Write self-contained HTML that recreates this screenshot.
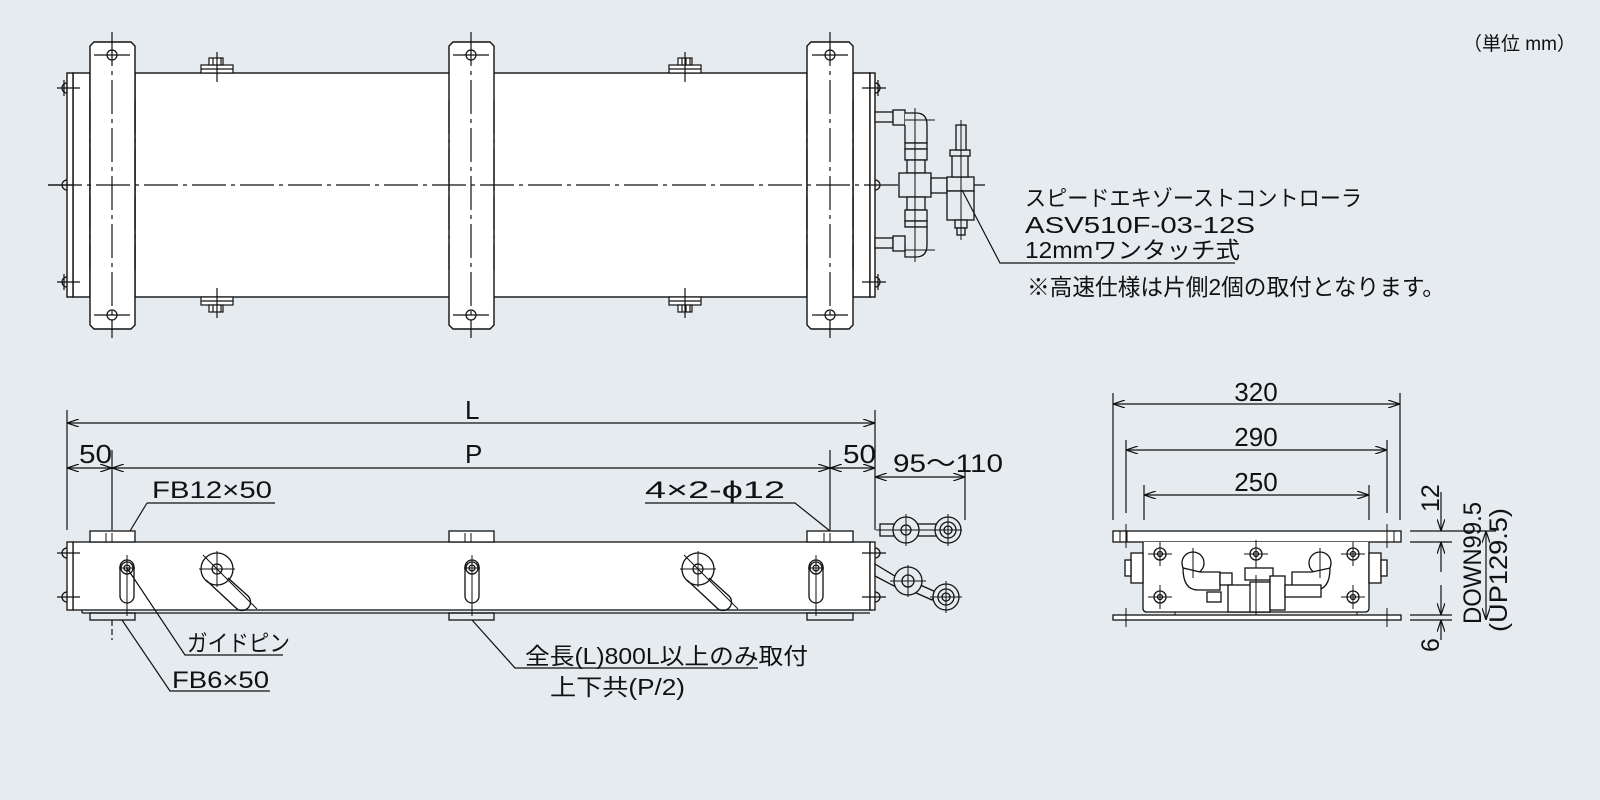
<!DOCTYPE html>
<html><head><meta charset="utf-8"><style>
html,body{margin:0;padding:0;background:#e6ebf0;}
svg{display:block;}
text{font-family:"Liberation Sans","Noto Sans CJK JP",sans-serif;fill:#111;}
</style></head><body>
<svg width="1600" height="800" viewBox="0 0 1600 800" xmlns="http://www.w3.org/2000/svg">
<defs>
<marker id="a" viewBox="0 0 12 8" refX="12" refY="4" markerWidth="12" markerHeight="8" orient="auto-start-reverse" markerUnits="userSpaceOnUse"><path d="M0,0 L12,4 L0,8" fill="none" stroke="#111" stroke-width="1.2"/></marker>
</defs>
<rect width="1600" height="800" fill="#e6ebf0"/>
<g fill="none" stroke="#111" stroke-width="1.4">
<rect x="73" y="73" width="17" height="224" fill="#fff"/>
<rect x="67" y="73" width="6" height="224" fill="#fff"/>
<rect x="135" y="73" width="672" height="224" fill="#fff"/>
<rect x="853" y="73" width="17" height="224" fill="#fff"/>
<rect x="870" y="73" width="5" height="224" fill="#fff"/>
<path d="M94,42 H131 L135,46 V325 L131,329 H94 L90,325 V46 Z" fill="#fff"/>
<path d="M453,42 H490 L494,46 V325 L490,329 H453 L449,325 V46 Z" fill="#fff"/>
<path d="M811,42 H849 L853,46 V325 L849,329 H811 L807,325 V46 Z" fill="#fff"/>
<g stroke-width="1.2">
<circle cx="112" cy="55" r="5"/><circle cx="112" cy="315" r="5"/>
<circle cx="471" cy="55" r="5"/><circle cx="471" cy="315" r="5"/>
<circle cx="830" cy="55" r="5"/><circle cx="830" cy="315" r="5"/>
<path d="M94,55 H130 M94,315 H130 M453,55 H489 M453,315 H489 M812,55 H848 M812,315 H848"/>
<path d="M67,83 a5,5 0 0 0 0,10 M67,180 a5,5 0 0 0 0,10 M67,277 a5,5 0 0 0 0,10"/>
<path d="M57,88 H80 M48,185 H72 M57,282 H80 M64,80 V96 M64,274 V290"/>
<path d="M875,83 a5,5 0 0 1 0,10 M875,180 a5,5 0 0 1 0,10 M875,277 a5,5 0 0 1 0,10"/>
<path d="M862,88 H886 M862,282 H886 M878,80 V96 M878,274 V290"/>
<rect x="201" y="65" width="32" height="8" fill="#fff"/><path d="M201,69 H233"/>
<rect x="209" y="58" width="14" height="7" fill="#fff"/><path d="M213,58 V65 M217,58 V65 M221,58 V65 M217,52 V82"/>
<rect x="669" y="65" width="32" height="8" fill="#fff"/><path d="M669,69 H701"/>
<rect x="678" y="58" width="14" height="7" fill="#fff"/><path d="M682,58 V65 M686,58 V65 M690,58 V65 M685,52 V82"/>
<rect x="201" y="297" width="32" height="8" fill="#fff"/><path d="M201,301 H233"/>
<rect x="209" y="305" width="14" height="7" fill="#fff"/><path d="M213,305 V312 M217,305 V312 M221,305 V312 M217,288 V318"/>
<rect x="669" y="297" width="32" height="8" fill="#fff"/><path d="M669,301 H701"/>
<rect x="678" y="305" width="14" height="7" fill="#fff"/><path d="M682,305 V312 M686,305 V312 M690,305 V312 M685,288 V318"/>
</g>
<g stroke-width="1.2" stroke-dasharray="34 5 4 5">
<path d="M48,185 H985"/>
<path d="M112,32 V338 M471,32 V338 M830,32 V338"/>
<path d="M449,100 V270 M494,100 V270 M807,100 V270 M853,100 V270 M90,100 V270 M135,100 V270"/>
</g>
<g stroke-width="1.3" fill="#e6ebf0">
<rect x="875" y="112" width="18" height="10"/><rect x="893" y="110" width="12" height="15"/>
<path d="M905,113 H916 Q927,113 927,125 V143 H905 V125"/>
<rect x="905" y="143" width="22" height="6"/><rect x="905" y="149" width="22" height="11"/><rect x="907" y="160" width="18" height="13"/>
<rect x="899" y="173" width="32" height="24"/>
<rect x="907" y="197" width="18" height="13"/><rect x="905" y="210" width="22" height="11"/><rect x="905" y="221" width="22" height="6"/>
<path d="M905,227 H927 V245 Q927,257 916,257 H905 V245"/>
<rect x="875" y="238" width="18" height="10"/><rect x="893" y="236" width="12" height="15"/>
<rect x="931" y="178" width="16" height="15"/>
<rect x="947" y="177" width="27" height="14"/><rect x="947" y="191" width="27" height="29"/>
<rect x="952" y="155" width="16" height="22"/><rect x="950" y="150" width="20" height="6"/>
<rect x="956" y="125" width="10" height="25"/>
<rect x="955" y="220" width="12" height="8"/><rect x="957" y="228" width="8" height="7"/>
</g>
<path d="M915,108 V262 M905,120 H935 M905,250 H935 M961,120 V240" stroke-width="1"/>
<path d="M962,190 L1000,263 H1235" stroke-width="1.2"/>

<g stroke-width="1.3">
<rect x="73" y="542" width="797" height="68" fill="#fff"/>
<rect x="67" y="542" width="6" height="68" fill="#fff"/>
<rect x="870" y="542" width="5" height="68" fill="#fff"/>
<path d="M82,613 H870 M82,610 V613"/>
<rect x="90" y="531" width="45" height="11" fill="#fff"/>
<rect x="449" y="531" width="45" height="11" fill="#fff"/>
<rect x="807" y="531" width="46" height="11" fill="#fff"/>
<rect x="90" y="613" width="45" height="7"/>
<rect x="449" y="613" width="45" height="7"/>
<rect x="807" y="613" width="46" height="7"/>
<path d="M106,533 V542 M112,533 V542 M465,533 V542 M471,533 V542 M824,533 V542 M830,533 V542" stroke-width="1"/>
<path d="M67,548 a5,5 0 0 0 0,10 M67,592 a5,5 0 0 0 0,10 M57,553 H80 M57,597 H80"/>
<path d="M875,548 a5,5 0 0 1 0,10 M875,592 a5,5 0 0 1 0,10 M862,553 H886 M862,597 H886"/>
<rect x="120" y="560" width="14" height="43" rx="7"/><circle cx="127" cy="568" r="6"/><circle cx="127" cy="568" r="3"/>
<rect x="465" y="560" width="14" height="43" rx="7"/><circle cx="472" cy="568" r="6"/><circle cx="472" cy="568" r="3"/>
<rect x="809" y="560" width="14" height="43" rx="7"/><circle cx="816" cy="568" r="6"/><circle cx="816" cy="568" r="3"/>
<path d="M127,555 V616 M472,555 V616 M816,555 V616 M119,568 H135 M464,568 H480 M808,568 H824" stroke-width="1"/>
<circle cx="217" cy="569" r="16"/><circle cx="217" cy="569" r="5"/>
<path d="M206,580 L236,608 A8,8 0 0 0 248,596 L228,578"/>
<path d="M199,569 H235 M217,551 V587 M203,555 L257,609" stroke-width="1"/>
<circle cx="698" cy="569" r="16"/><circle cx="698" cy="569" r="5"/>
<path d="M687,580 L717,608 A8,8 0 0 0 729,596 L709,578"/>
<path d="M680,569 H716 M698,551 V587 M684,555 L738,609" stroke-width="1"/>
<g fill="#e6ebf0">
<rect x="880" y="524" width="14" height="12"/><rect x="916" y="524" width="22" height="12"/>
<circle cx="906" cy="530" r="13"/><circle cx="906" cy="530" r="5"/>
<circle cx="948" cy="530" r="13"/><circle cx="948" cy="530" r="8"/><circle cx="948" cy="530" r="4"/>
<path d="M875,564 L898,578 L894,586 L875,576 Z"/><path d="M918,584 L936,592 L932,600 L914,592 Z"/>
<circle cx="908" cy="581" r="14"/><circle cx="908" cy="581" r="6"/>
<circle cx="946" cy="597" r="13"/><circle cx="946" cy="597" r="8"/><circle cx="946" cy="597" r="4"/>
</g>
<path d="M876,530 H962 M906,514 V546 M948,514 V546 M890,581 H926 M908,565 V597 M930,597 H962 M946,581 V613" stroke-width="1"/>
</g>
<g stroke-width="1.2">
<path d="M67,410 V530 M875,410 V530"/>
<path d="M67,423 H875" marker-start="url(#a)" marker-end="url(#a)"/>
<path d="M112,450 V530 M830,450 V530" />
<path d="M112,468 H830" marker-start="url(#a)" marker-end="url(#a)"/>
<path d="M67,468 H112" marker-start="url(#a)" marker-end="url(#a)"/>
<path d="M830,468 H875" marker-start="url(#a)" marker-end="url(#a)"/>
<path d="M965,465 V520"/>
<path d="M875,477 H965" marker-start="url(#a)" marker-end="url(#a)"/>
<path d="M112,620 V640" stroke-dasharray="6 3"/>
<path d="M147,503 H275 M147,503 L130,531"/>
<path d="M645,503 H795 L830,531"/>
<path d="M127,568 L185,655 H283"/>
<path d="M122,620 L170,691 H270"/>
<path d="M472,620 L515,668 H758"/>
</g>

<g stroke-width="1.3">
<rect x="1113" y="531" width="288" height="11" fill="#fff"/>
<path d="M1143,542 V608 Q1143,612 1147,612 H1365 Q1369,612 1369,608 V542" fill="#fff"/>
<rect x="1113" y="615" width="288" height="5" fill="#fff"/>
<path d="M1158,612 H1175 V615 M1340,612 H1357 V615" stroke-width="1"/>
<rect x="1131" y="553" width="12" height="30" fill="#fff"/><rect x="1125" y="560" width="6" height="16" fill="#fff"/>
<rect x="1369" y="553" width="12" height="30" fill="#fff"/><rect x="1381" y="560" width="6" height="16" fill="#fff"/>
<g fill="#fff">
<circle cx="1160" cy="554" r="6"/><circle cx="1256" cy="554" r="6"/><circle cx="1353" cy="554" r="6"/>
<circle cx="1160" cy="597" r="6"/><circle cx="1353" cy="597" r="6"/>
</g>
<circle cx="1160" cy="554" r="2.5"/><circle cx="1256" cy="554" r="2.5"/><circle cx="1353" cy="554" r="2.5"/>
<circle cx="1160" cy="597" r="2.5"/><circle cx="1353" cy="597" r="2.5"/>
<path d="M1148,554 H1172 M1160,542 V566 M1244,554 H1268 M1256,540 V568 M1341,554 H1365 M1353,542 V566 M1148,597 H1172 M1160,585 V609 M1341,597 H1365 M1353,585 V609" stroke-width="1"/>
<path d="M1120,531 V542 M1127,531 V542 M1387,531 V542 M1394,531 V542 M1126,524 V548 M1387,524 V548 M1126,608 V627 M1387,608 V627" stroke-width="1"/>
<circle cx="1193" cy="563" r="11" fill="#fff"/><circle cx="1320" cy="563" r="11" fill="#fff"/>
<path d="M1183,568 Q1183,590 1198,590 H1220 V572 H1200 Z" fill="#fff"/>
<path d="M1330,568 Q1330,590 1315,590 H1292 V572 H1312 Z" fill="#fff"/>
<rect x="1220" y="573" width="12" height="12" fill="#fff"/>
<rect x="1245" y="568" width="28" height="12" fill="#fff"/>
<rect x="1228" y="585" width="42" height="27" fill="#fff"/>
<rect x="1250" y="582" width="20" height="30" fill="#fff"/>
<rect x="1270" y="576" width="15" height="34" fill="#fff"/>
<rect x="1285" y="585" width="36" height="12" fill="#fff"/>
<rect x="1207" y="592" width="14" height="10" fill="#fff"/>
<path d="M1193,548 V578 M1320,548 V578 M1256,575 V615" stroke-width="1"/>
</g>
<g stroke-width="1.2">
<path d="M1113,393 V520 M1400,393 V520 M1126,440 V513 M1387,440 V513 M1144,485 V520 M1369,485 V520"/>
<path d="M1113,404 H1400" marker-start="url(#a)" marker-end="url(#a)"/>
<path d="M1126,450 H1387" marker-start="url(#a)" marker-end="url(#a)"/>
<path d="M1144,495 H1369" marker-start="url(#a)" marker-end="url(#a)"/>
<path d="M1410,531 H1452 M1410,542 H1452 M1410,615 H1452 M1410,620 H1452 M1452,531 H1496"/>
<path d="M1441,492 V531" marker-end="url(#a)"/>
<path d="M1441,542 V572" marker-start="url(#a)"/>
<path d="M1441,585 V615" marker-end="url(#a)"/>
<path d="M1441,620 V640" marker-start="url(#a)"/>
<path d="M1486,531 V620" marker-start="url(#a)" marker-end="url(#a)"/>
</g>
</g>

<g font-size="23">
<text x="1463" y="50" font-size="19">（単位 mm）</text>
<text x="1025" y="206" font-size="22" textLength="337" lengthAdjust="spacingAndGlyphs">スピードエキゾーストコントローラ</text>
<text x="1025" y="233" textLength="230" lengthAdjust="spacingAndGlyphs">ASV510F-03-12S</text>
<text x="1025" y="258" textLength="215" lengthAdjust="spacingAndGlyphs">12mmワンタッチ式</text>
<text x="1027" y="295" textLength="418" lengthAdjust="spacingAndGlyphs">※高速仕様は片側2個の取付となります。</text>
<text x="465" y="419" font-size="26">L</text>
<text x="465" y="463" font-size="26">P</text>
<text x="79" y="463" font-size="26" textLength="33" lengthAdjust="spacingAndGlyphs">50</text>
<text x="843" y="463" font-size="26" textLength="33" lengthAdjust="spacingAndGlyphs">50</text>
<text x="893" y="472" font-size="25" textLength="110" lengthAdjust="spacingAndGlyphs">95～110</text>
<text x="152" y="498" font-size="24" textLength="120" lengthAdjust="spacingAndGlyphs">FB12×50</text>
<text x="645" y="498" font-size="24" textLength="140" lengthAdjust="spacingAndGlyphs">4×2-ϕ12</text>
<text x="187" y="651" textLength="103" lengthAdjust="spacingAndGlyphs">ガイドピン</text>
<text x="172" y="688" font-size="24" textLength="97" lengthAdjust="spacingAndGlyphs">FB6×50</text>
<text x="525" y="664" textLength="283" lengthAdjust="spacingAndGlyphs">全長(L)800L以上のみ取付</text>
<text x="550" y="695" textLength="135" lengthAdjust="spacingAndGlyphs">上下共(P/2)</text>
<text x="1256" y="401" font-size="26" text-anchor="middle">320</text>
<text x="1256" y="446" font-size="26" text-anchor="middle">290</text>
<text x="1256" y="491" font-size="26" text-anchor="middle">250</text>
<text transform="translate(1439,512) rotate(-90)" font-size="25">12</text>
<text transform="translate(1439,652) rotate(-90)" font-size="25">6</text>
<text transform="translate(1481,624) rotate(-90)" font-size="25" textLength="122" lengthAdjust="spacingAndGlyphs">DOWN99.5</text>
<text transform="translate(1507,632) rotate(-90)" font-size="25" textLength="124" lengthAdjust="spacingAndGlyphs">(UP129.5)</text>
</g>
</svg>
</body></html>
